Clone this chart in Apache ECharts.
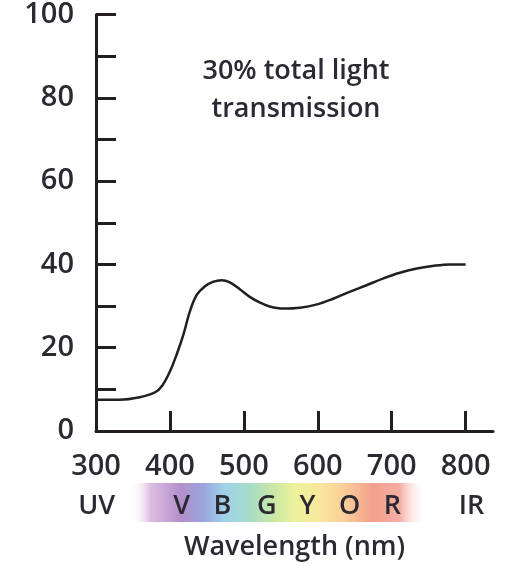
<!DOCTYPE html>
<html>
<head>
<meta charset="utf-8">
<script src="https://cdn.jsdelivr.net/npm/echarts@6/dist/echarts.min.js"></script>
<style>
  html, body { margin: 0; padding: 0; background: #fff; }
  #chart { width: 506px; height: 566px; }
</style>
</head>
<body>
<div id="chart"></div>
<script>
// 波长 (nm) 和透过率 (%)
const wavelengths = [300, 332, 359, 380, 390, 400, 409, 418, 427, 436, 447, 458, 470, 481, 495, 508, 522, 535, 553, 576, 599, 620, 643, 666, 688, 711, 734, 755, 778, 800]
const transmission = [7.5, 7.5, 8.1, 9.3, 11, 14.3, 18.3, 23, 28.7, 32.6, 34.7, 35.8, 36.2, 35.7, 34.0, 32.2, 30.8, 29.9, 29.4, 29.6, 30.4, 31.7, 33.4, 35, 36.6, 38, 39, 39.6, 40, 40]
const xTickLabels = [300, 400, 500, 600, 700, 800]
const yTickLabels = [0, 20, 40, 60, 80, 100]
// 光谱带上的字母和位置
const bandLetters = ['UV', 'V', 'B', 'G', 'Y', 'O', 'R', 'IR']
const bandPositions = [301, 416, 471, 531, 586, 643, 701, 808]
const bandRange = [346, 747]

const ink = '#231f20'
const textColor = '#2b2a33'
const font = 'Open Sans'

const chart = echarts.init(document.getElementById('chart'))

const option = {
  animation: false,
  grid: { left: 96, right: 13, top: 14, bottom: 133 },
  xAxis: [
    {
      type: 'value',
      min: 300,
      max: 837,
      interval: 100,
      name: 'Wavelength (nm)',
      nameLocation: 'middle',
      nameGap: 103,
      nameTextStyle: { color: textColor, fontFamily: font, fontSize: 27, fontWeight: 600 },
      axisLine: { lineStyle: { color: ink, width: 3 } },
      axisTick: { inside: true, length: 20, lineStyle: { color: ink, width: 3 }, customValues: [400, 500, 600, 700, 800] },
      axisLabel: { color: textColor, fontFamily: font, fontSize: 29, fontWeight: 600, margin: 21, customValues: xTickLabels },
      splitLine: { show: false }
    },
    {
      type: 'value',
      position: 'bottom',
      min: 300,
      max: 837,
      offset: 48,
      axisLine: { show: false },
      axisTick: { show: false },
      splitLine: { show: false },
      axisLabel: {
        color: textColor,
        fontFamily: font,
        fontSize: 27,
        fontWeight: 600,
        margin: 14,
        customValues: bandPositions,
        formatter: v => bandLetters[bandPositions.indexOf(v)] || ''
      }
    }
  ],
  yAxis: {
    type: 'value',
    min: 0,
    max: 100,
    interval: 10,
    axisLine: { show: true, lineStyle: { color: ink, width: 3 } },
    axisTick: { show: true, inside: true, length: 20, lineStyle: { color: ink, width: 3 }, customValues: [10, 20, 30, 40, 50, 60, 70, 80, 90, 100] },
    axisLabel: { color: textColor, fontFamily: font, fontSize: 29, fontWeight: 600, margin: 22, customValues: yTickLabels },
    splitLine: { show: false }
  },
  series: [
    {
      type: 'line',
      smooth: 0.35,
      showSymbol: false,
      lineStyle: { color: ink, width: 2.5 },
      data: wavelengths.map((w, i) => [w, transmission[i]])
    }
  ]
}
chart.setOption(option)

// 光谱色带和说明文字
const x0 = chart.convertToPixel({ xAxisIndex: 0 }, bandRange[0])
const x1 = chart.convertToPixel({ xAxisIndex: 0 }, bandRange[1])
chart.setOption({
  graphic: [
    {
      type: 'rect',
      z: -1,
      shape: { x: x0, y: 483, width: x1 - x0, height: 39 },
      style: {
        fill: new echarts.graphic.LinearGradient(0, 0, 1, 0, [
          { offset: 0, color: 'rgba(255,255,255,0)' },
          { offset: 0.07, color: '#dcbde0' },
          { offset: 0.17, color: '#b48fcb' },
          { offset: 0.25, color: '#9aa6dc' },
          { offset: 0.32, color: '#9fd2ea' },
          { offset: 0.40, color: '#a6dccb' },
          { offset: 0.48, color: '#c8e7a6' },
          { offset: 0.56, color: '#eef29b' },
          { offset: 0.64, color: '#f9e79c' },
          { offset: 0.72, color: '#fbcf9a' },
          { offset: 0.82, color: '#f3a08c' },
          { offset: 0.91, color: '#f5aea5' },
          { offset: 1, color: 'rgba(255,255,255,0)' }
        ])
      }
    },
    {
      type: 'text',
      left: 296 - 120,
      top: 52,
      style: {
        text: '30% total light\ntransmission',
        fill: textColor,
        font: '600 27px "Open Sans"',
        lineHeight: 38,
        textAlign: 'center',
        width: 240
      }
    }
  ]
})
</script>
</body>
</html>
